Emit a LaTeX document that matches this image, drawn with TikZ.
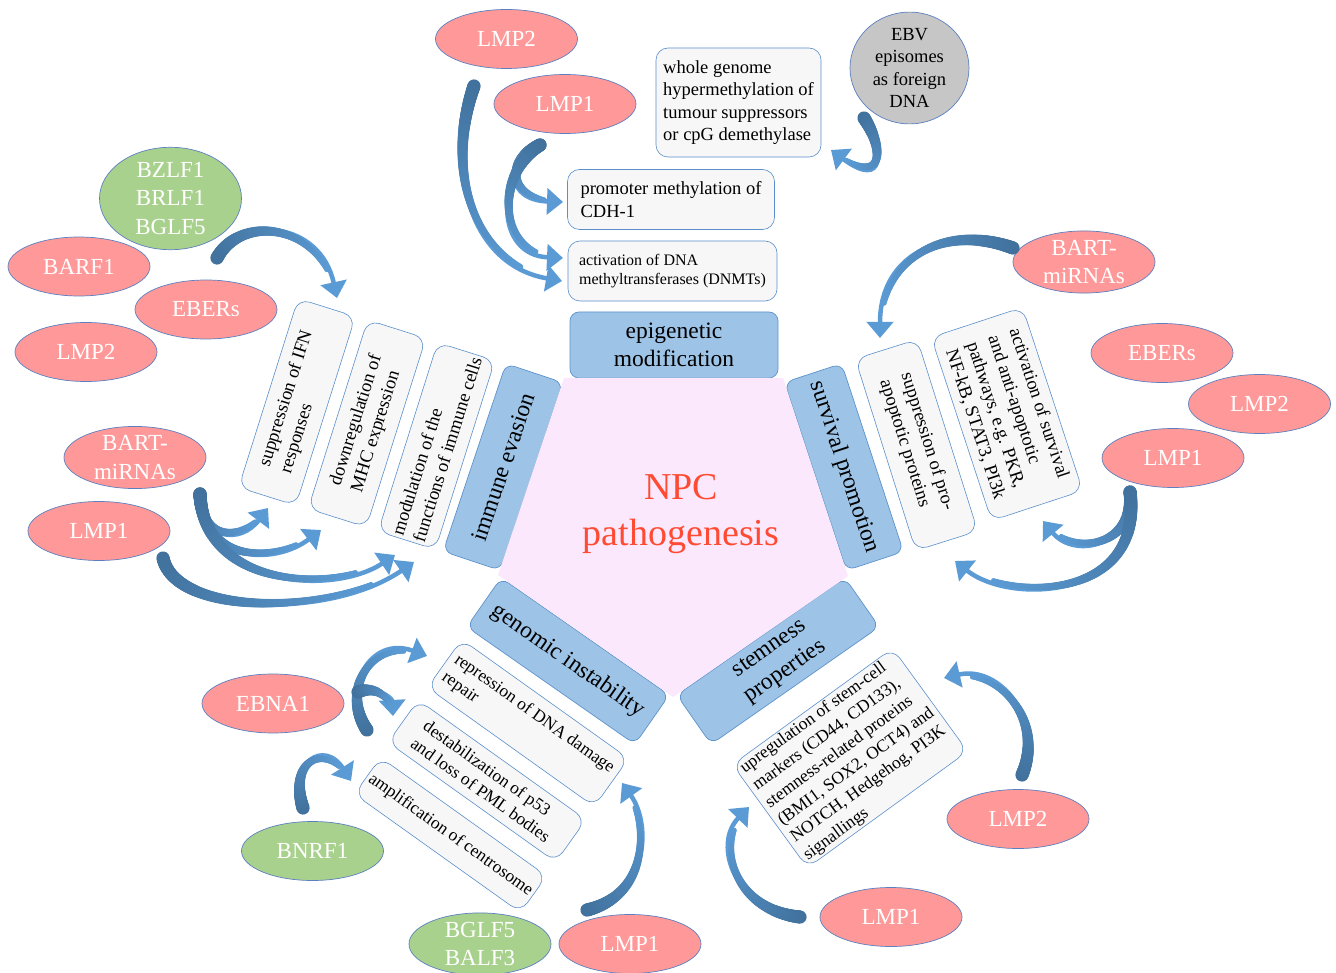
\documentclass[tikz,border=0pt]{standalone}
\usepackage{fontspec}
\setmainfont{Liberation Serif}
\usetikzlibrary{shapes.geometric,arrows.meta,decorations.markings}
\definecolor{pinkF}{HTML}{FF9999}
\definecolor{greenF}{HTML}{A9D18E}
\definecolor{greyF}{HTML}{C6C6C6}
\definecolor{ellD}{HTML}{5B80BF}
\definecolor{tabF}{HTML}{9DC3E6}
\definecolor{tabD}{HTML}{5E93CC}
\definecolor{boxF}{HTML}{F7F7F7}
\definecolor{boxD}{HTML}{5B8FCB}
\definecolor{pentF}{HTML}{FCE8FC}
\definecolor{npcR}{HTML}{FF4B33}
\definecolor{arrL}{HTML}{5B9BD5}
\definecolor{arrD}{HTML}{41719C}
\newcommand\fsEll{\fontsize{23}{28.5}\selectfont}
\newcommand\fsTab{\fontsize{23.5}{28}\selectfont}
\newcommand\fsBox{\fontsize{18.5}{22.3}\selectfont}
\newcommand\fsSmall{\fontsize{16}{19}\selectfont}
\newcommand\fsGen{\fontsize{17.5}{21.5}\selectfont}
\newcommand\fsNpc{\fontsize{38}{46}\selectfont}
\tikzset{
  ell/.style={ellipse, draw=ellD, line width=0.7pt, minimum width=142pt, minimum height=59pt,
    inner sep=0pt, text=white, font=\fsEll, align=center},
  pinkell/.style={ell, fill=pinkF},
  greenell/.style={ell, fill=greenF},
  tab/.style={draw=tabD, fill=tabF, line width=0.7pt, rounded corners=9pt, inner sep=0pt,
    font=\fsTab, align=center},
  infobox/.style={draw=boxD, fill=boxF, line width=0.6pt, rounded corners=12pt, font=\fsBox,
    align=left, inner sep=2pt},
  carrow/.style={draw=arrL, line width=4.5pt, -{Triangle[width=26pt,length=16pt]},
    decoration={markings,
      mark=between positions 0 and 0.82 step 1pt with {%
        \pgfmathsetmacro\tpf{\pgfkeysvalueof{/pgf/decoration/mark info/distance from start}/\pgfdecoratedpathlength}%
        \pgfmathsetmacro\tpr{6.6-(4.35/0.82)*\tpf}%
        \pgfmathtruncatemacro\tpm{100*\tpf/0.82}%
        \fill[arrL!\tpm!arrD] (0,0) circle[radius=\tpr pt];
      }},
    postaction={decorate}},
}
\begin{document}
\begin{tikzpicture}[x=1pt,y=-1pt]
\fill[white] (0,0) rectangle (1336,973);
\useasboundingbox (0,0) rectangle (1336,973);

% tabs
\node[tab, minimum width=208pt, minimum height=66pt] (tepi) at (674,345) {epigenetic\\modification};
\node[tab, minimum width=198pt, minimum height=60pt, rotate=71.5] (timm) at (503,467) {immune evasion};
\node[tab, minimum width=198pt, minimum height=60pt, rotate=-71.8] (tsur) at (844,467) {survival promotion};
\node[tab, minimum width=205pt, minimum height=60pt, rotate=-34.9] (tgen) at (568,661) {genomic instability};
\node[tab, minimum width=205pt, minimum height=60pt, rotate=34.9] (tstem) at (778,661) {stemness\\properties};

% pentagon
\fill[pentF] (564,378) -- (783,378) -- (848,576) -- (673,697) -- (498,575) -- cycle;
\node[text=npcR, font=\fsNpc, align=center] (npc) at (681,514) {NPC\\pathogenesis};

% epigenetic boxes
\node[infobox, minimum width=165pt, minimum height=109pt] (bwhole) at (738.5,102.5)
  {whole genome\\hypermethylation of\\tumour suppressors\\or cpG demethylase};
\node[infobox, minimum width=207pt, minimum height=60pt] (bprom) at (671,199.5)
  {promoter methylation of\\CDH-1};
\node[infobox, font=\fsSmall, minimum width=209pt, minimum height=60pt] (bdnmt) at (672.5,271)
  {activation of DNA\\methyltransferases (DNMTs)};

% immune evasion boxes
\node[infobox, rotate=72.5, minimum width=198pt, minimum height=60pt] (bifn) at (297,402)
  {suppression of IFN\\responses};
\node[infobox, rotate=72.5, minimum width=198pt, minimum height=61pt] (bmhc) at (367,423.5)
  {downregulation of\\MHC expression};
\node[infobox, rotate=72.5, minimum width=198pt, minimum height=60pt] (bmod) at (436.5,446)
  {modulation of the\\functions of immune cells};

% survival boxes
\node[infobox, rotate=-72.5, minimum width=201pt, minimum height=65pt] (bpro) at (916.5,445)
  {suppression of pro-\\apoptotic proteins};
\node[infobox, rotate=-71.8, minimum width=193pt, minimum height=96pt] (bsurv) at (1007,414)
  {activation of survival\\and anti-apoptotic\\pathways, e.g. PKR,\\NF-kB, STAT3, PI3k};

% genomic instability boxes
\node[infobox, font=\fsGen, rotate=-35.5, minimum width=205pt, minimum height=59pt] (brep) at (528,723)
  {repression of DNA damage\\repair};
\node[infobox, font=\fsGen, rotate=-35.5, minimum width=206pt, minimum height=52pt] (bp53) at (487,781)
  {destabilization of p53\\and loss of PML bodies};
\node[infobox, font=\fsGen, rotate=-35.5, minimum width=204pt, minimum height=45pt] (bcen) at (450.5,835)
  {amplification of centrosome};

% stemness box
\node[infobox, font=\fsGen, rotate=36, minimum width=198pt, minimum height=126pt] (bstem) at (850,758)
  {upregulation of stem-cell\\markers (CD44, CD133),\\stemness-related proteins\\(BMI1, SOX2, OCT4) and\\NOTCH, Hedgehog, PI3K\\signallings};

% ellipses
\node[pinkell] (lmp2t) at (506.5,39) {LMP2};
\node[pinkell] (lmp1t) at (565,104) {LMP1};
\node[ell, fill=greyF, text=black, font=\fsBox, minimum width=119pt, minimum height=108pt] (ebv) at (909.5,68)
  {EBV\\episomes\\as foreign\\DNA};
\node[greenell, minimum height=87pt] (bzlf) at (170.5,198.5) {BZLF1\\BRLF1\\BGLF5};
\node[pinkell] (barf) at (79,266.5) {BARF1};
\node[pinkell] (eberl) at (206,309.5) {EBERs};
\node[pinkell] (lmp2l) at (86,352) {LMP2};
\node[pinkell] (bartl) at (135,457.5) {BART-\\miRNAs};
\node[pinkell] (lmp1l) at (99,531) {LMP1};
\node[pinkell] (bartr) at (1084,262) {BART-\\miRNAs};
\node[pinkell] (eberr) at (1162,353) {EBERs};
\node[pinkell] (lmp2r) at (1259.5,404) {LMP2};
\node[pinkell] (lmp1r) at (1173,458) {LMP1};
\node[pinkell] (ebna) at (273,703.5) {EBNA1};
\node[greenell] (bnrf) at (312.5,851) {BNRF1};
\node[greenell] (bglf) at (480,944) {BGLF5\\BALF3};
\node[pinkell] (lmp1b) at (630,944) {LMP1};
\node[pinkell] (lmp2s) at (1018,819) {LMP2};
\node[pinkell] (lmp1s) at (891,917) {LMP1};

% arrow end points
\coordinate (a1s) at (474,86);   \coordinate (a1e) at (562,281);
\coordinate (a2s) at (540,145);  \coordinate (a2e) at (563,202);
\coordinate (a3e) at (563,258);
\coordinate (a4s) at (864,118);  \coordinate (a4e) at (831,150);
\coordinate (a5s) at (1013,248); \coordinate (a5e) at (880,338);
\coordinate (a6s) at (1130,492); \coordinate (a6e) at (1043,521);
\coordinate (a7e) at (955,561);
\coordinate (a8s) at (217,258);  \coordinate (a8e) at (337,298);
\coordinate (a9s) at (200,494);  \coordinate (a9e) at (268,508);
\coordinate (a10e) at (321,530);
\coordinate (a11e) at (395,555);
\coordinate (a12s) at (163,558); \coordinate (a12e) at (414,562);
\coordinate (a13s) at (367,730); \coordinate (a13e) at (427,656);
\coordinate (a14s) at (358,692); \coordinate (a14e) at (393,716);
\coordinate (a15s) at (303,808); \coordinate (a15e) at (351,781);
\coordinate (a16s) at (587,910); \coordinate (a16e) at (622,783);
\coordinate (a17s) at (1022,775); \coordinate (a17e) at (944,678);
\coordinate (a18s) at (800,917); \coordinate (a18e) at (749,807);

% arrows
\draw[carrow] (a1s) .. controls (445,170) and (470,265) .. (a1e);
\draw[carrow] (a2s) .. controls (505,160) and (505,200) .. (a2e);
\draw[carrow] (a2s) .. controls (495,175) and (495,255) .. (a3e);
\draw[carrow] (a4s) .. controls (885,150) and (885,190) .. (a4e);
\draw[carrow] (a5s) .. controls (950,225) and (880,250) .. (a5e);
\draw[carrow] (a6s) .. controls (1135,545) and (1075,560) .. (a6e);
\draw[carrow] (a6s) .. controls (1145,600) and (1010,605) .. (a7e);
\draw[carrow] (a8s) .. controls (240,215) and (320,220) .. (a8e);
\draw[carrow] (a9s) .. controls (200,540) and (240,545) .. (a9e);
\draw[carrow] (a9s) .. controls (203,565) and (275,565) .. (a10e);
\draw[carrow] (a9s) .. controls (205,590) and (335,595) .. (a11e);
\draw[carrow] (a12s) .. controls (175,615) and (330,620) .. (a12e);
\draw[carrow] (a13s) .. controls (340,690) and (370,635) .. (a13e);
\draw[carrow] (a14s) .. controls (376,685) and (392,698) .. (a14e);
\draw[carrow] (a15s) .. controls (288,760) and (325,740) .. (a15e);
\draw[carrow] (a16s) .. controls (648,895) and (652,825) .. (a16e);
\draw[carrow] (a17s) .. controls (1045,720) and (1000,665) .. (a17e);
\draw[carrow] (a18s) .. controls (735,910) and (712,845) .. (a18e);
\end{tikzpicture}
\end{document}
